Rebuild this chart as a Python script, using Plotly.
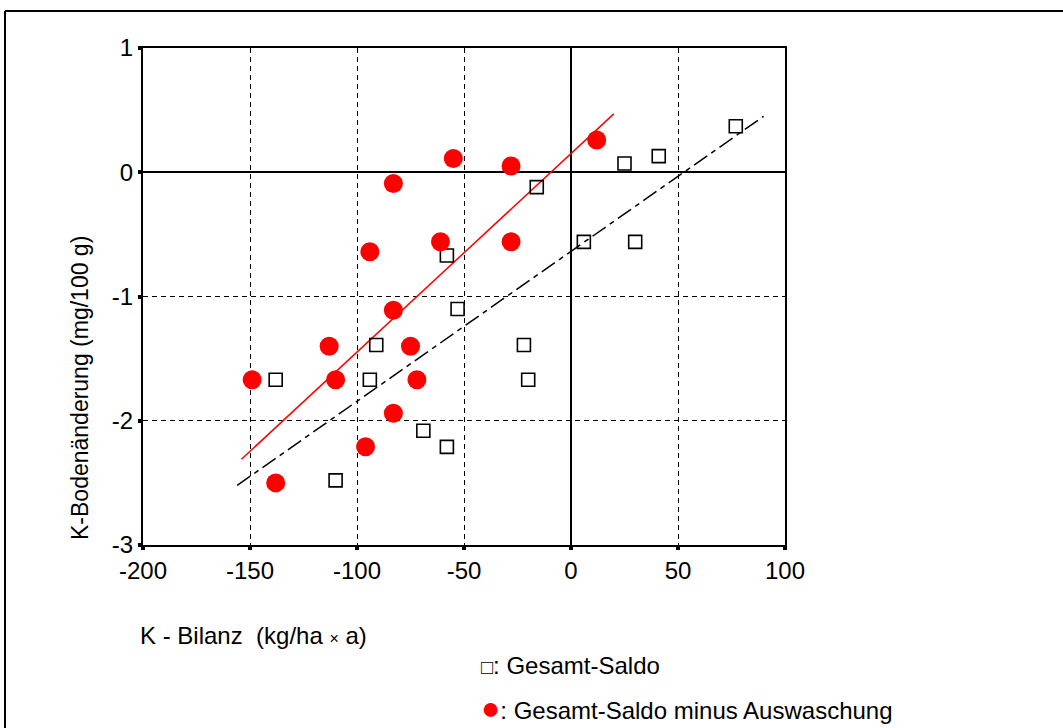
import plotly.graph_objects as go

# Gesamt-Saldo (open squares)
saldo_x = [-138, -110, -91, -94, -69, -58, -58, -53, -22, -20, -16, 6, 25, 30, 41, 77]
saldo_y = [-1.67, -2.48, -1.39, -1.67, -2.08, -2.21, -0.67, -1.10, -1.39, -1.67, -0.12, -0.56, 0.07, -0.56, 0.13, 0.37]

# Gesamt-Saldo minus Auswaschung (red circles)
minus_x = [-149, -138, -113, -110, -96, -94, -83, -83, -83, -75, -72, -61, -55, -28, -28, 12]
minus_y = [-1.67, -2.50, -1.40, -1.67, -2.21, -0.64, -0.09, -1.11, -1.94, -1.40, -1.67, -0.56, 0.11, 0.05, -0.56, 0.26]

# regression lines (end points)
fit_saldo_x = [-156, 90]
fit_saldo_y = [-2.52, 0.45]
fit_minus_x = [-154, 20]
fit_minus_y = [-2.31, 0.47]

x_ticks = [-200, -150, -100, -50, 0, 50, 100]
y_ticks = [-3, -2, -1, 0, 1]

FONT = "Liberation Sans, Arial, sans-serif"

fig = go.Figure()
fig.add_trace(go.Scatter(x=fit_saldo_x, y=fit_saldo_y, mode="lines",
                         line=dict(color="black", width=1.5, dash="16px,5px,5px,5px"),
                         showlegend=False, hoverinfo="skip"))
fig.add_trace(go.Scatter(x=fit_minus_x, y=fit_minus_y, mode="lines",
                         line=dict(color="#ff0000", width=1.5),
                         showlegend=False, hoverinfo="skip"))
fig.add_trace(go.Scatter(x=saldo_x, y=saldo_y, mode="markers",
                         marker=dict(symbol="square-open", size=13, color="black",
                                     line=dict(width=1.6, color="black")),
                         showlegend=False))
fig.add_trace(go.Scatter(x=minus_x, y=minus_y, mode="markers",
                         marker=dict(symbol="circle", size=19, color="#ff0000",
                                     line=dict(width=0)),
                         showlegend=False))

axis_common = dict(
    showline=True, linecolor="black", linewidth=2, mirror=True,
    showgrid=True, gridcolor="black", gridwidth=1.3, griddash="5px,4px",
    zeroline=True, zerolinecolor="black", zerolinewidth=1.5,
    ticks="outside", ticklen=3, tickwidth=4, tickcolor="black",
    tickfont=dict(family=FONT, size=24, color="black"),
)

fig.update_xaxes(range=[-200, 100], tickvals=x_ticks, ticktext=[str(v) for v in x_ticks],
                 **axis_common)
fig.update_yaxes(range=[-3, 1], tickvals=y_ticks, ticktext=[str(v) for v in y_ticks],
                 **axis_common)

W, H = 1063, 728
L, R, T, B = 143, 785, 48, 545
pw, ph = R - L, B - T

def px(xp):
    return (xp - L) / pw

def py(yp):
    return (B - yp) / ph

annotations = [
    dict(x=px(80), y=py(388), xref="paper", yref="paper", xanchor="center", yanchor="middle",
         text="K-Bodenänderung (mg/100 g)", textangle=-90, showarrow=False,
         font=dict(family=FONT, size=23, color="black")),
    dict(x=px(138), y=py(635), xref="paper", yref="paper", xanchor="left", yanchor="middle",
         text="K - Bilanz  (kg/ha <span style='font-size:16px'>×</span> a)", showarrow=False,
         font=dict(family=FONT, size=24, color="black")),
    dict(x=px(479), y=py(665), xref="paper", yref="paper", xanchor="left", yanchor="middle",
         text="<span style='font-size:20px'>□</span>: Gesamt-Saldo", showarrow=False,
         font=dict(family=FONT, size=24, color="black")),
    dict(x=px(479), y=py(708), xref="paper", yref="paper", xanchor="left", yanchor="middle",
         text="<span style='color:#ff0000;font-size:32px'>●</span>: Gesamt-Saldo minus Auswaschung",
         showarrow=False, font=dict(family=FONT, size=24, color="black")),
]

shapes = [
    dict(type="line", xref="paper", yref="paper", x0=px(5), x1=px(1063), y0=py(11), y1=py(11),
         line=dict(color="black", width=2)),
    dict(type="line", xref="paper", yref="paper", x0=px(5), x1=px(5), y0=py(11), y1=py(728),
         line=dict(color="black", width=2)),
]

fig.update_layout(
    width=W, height=H,
    margin=dict(l=L, r=W - R, t=T, b=H - B, pad=0),
    paper_bgcolor="white", plot_bgcolor="white",
    font=dict(family=FONT, color="black"),
    annotations=annotations, shapes=shapes, showlegend=False,
)

fig.write_html("out.html")
